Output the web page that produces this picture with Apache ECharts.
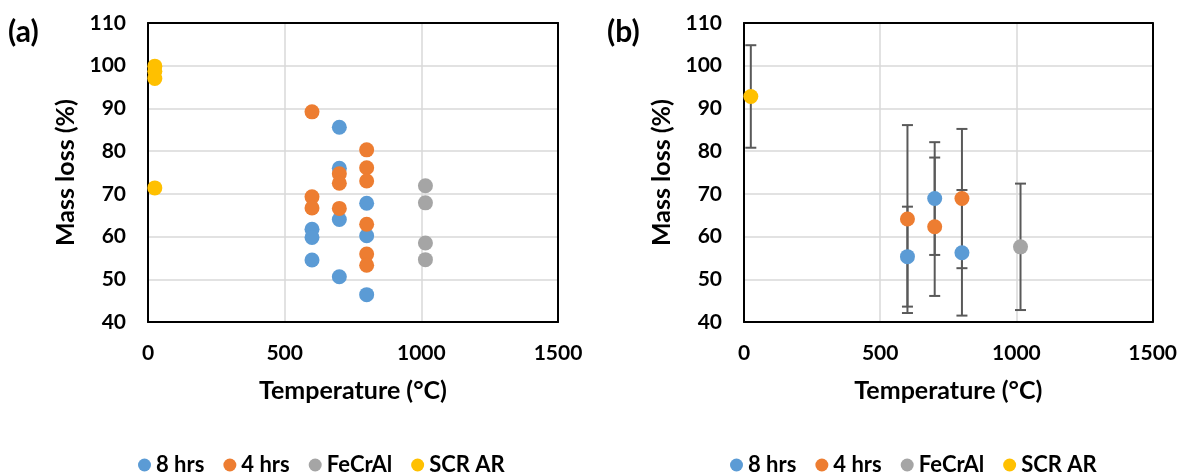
<!DOCTYPE html>
<html>
<head>
<meta charset="utf-8">
<script src="https://cdn.jsdelivr.net/npm/echarts@6/dist/echarts.min.js"></script>
<style>
html,body{margin:0;padding:0;background:#fff;}
#chart{width:1180px;height:472px;}
</style>
</head>
<body>
<div id="chart"></div>
<script>
// ---------- Data ----------
const seriesNames = ['8 hrs', '4 hrs', 'FeCrAl', 'SCR AR'];
const xTicks = [0, 500, 1000, 1500];
const yTicks = [40, 50, 60, 70, 80, 90, 100, 110];

// Panel (a): individual measurements
const tempA8 = [600, 600, 600, 700, 700, 700, 700, 800, 800, 800];
const lossA8 = [61.7, 59.8, 54.5, 85.6, 76.0, 64.0, 50.6, 67.8, 60.2, 46.4];
const tempA4 = [600, 600, 600, 700, 700, 700, 800, 800, 800, 800, 800, 800];
const lossA4 = [89.2, 69.3, 66.7, 74.7, 72.5, 66.6, 80.3, 76.1, 73.0, 62.9, 55.9, 53.3];
const tempAFe = [1015, 1015, 1015, 1015];
const lossAFe = [71.9, 67.9, 58.5, 54.6];
const tempASCR = [25, 25, 25, 25];
const lossASCR = [99.9, 98.7, 97.0, 71.4];

// Panel (b): means with error bars
const tempB8 = [600, 700, 800];
const lossB8 = [55.3, 68.9, 56.2];
const errB8 = [11.7, 13.2, 14.7];
const tempB4 = [600, 700, 800];
const lossB4 = [64.1, 62.3, 68.9];
const errB4 = [22.0, 16.2, 16.3];
const tempBFe = [1015];
const lossBFe = [57.6];
const errBFe = [14.8];
const tempBSCR = [25];
const lossBSCR = [92.8];
const errBSCR = [12.0];

// ---------- Styling ----------
const colors = ['#5B9BD5', '#ED7D31', '#A5A5A5', '#FFC000'];
const FONT = 'Lato';
const zip = (xs, ys) => xs.map((x, i) => [x, ys[i]]);
const zip3 = (xs, ys, es) => xs.map((x, i) => [x, ys[i], es[i]]);

const chart = echarts.init(document.getElementById('chart'), null, {renderer: 'canvas'});

const splitLineCfg = {show: true, showMinLine: false, showMaxLine: false, lineStyle: {color: '#d9d9d9', width: 1.5}};
const frameLine = {show: true, onZero: false, lineStyle: {color: '#000', width: 2}};

function xAxisCfg(gridIndex) {
  return {
    gridIndex, type: 'value', min: 0, max: 1500, interval: 500, position: 'bottom',
    name: 'Temperature (°C)', nameLocation: 'middle', nameGap: 56,
    nameTextStyle: {fontFamily: FONT, fontWeight: 'bold', fontSize: 25, color: '#000'},
    axisLine: frameLine, axisTick: {show: false},
    axisLabel: {fontFamily: FONT, fontWeight: 'bold', fontSize: 21, color: '#000', margin: 21,
      formatter: v => xTicks.includes(v) ? String(v) : ''},
    splitLine: splitLineCfg
  };
}
function yAxisCfg(gridIndex) {
  return {
    gridIndex, type: 'value', min: 40, max: 110, interval: 10, position: 'left',
    name: 'Mass loss (%)', nameLocation: 'middle', nameGap: 70,
    nameTextStyle: {fontFamily: FONT, fontWeight: 'bold', fontSize: 25, color: '#000'},
    axisLine: frameLine, axisTick: {show: false},
    axisLabel: {fontFamily: FONT, fontWeight: 'bold', fontSize: 21, color: '#000', margin: 22,
      formatter: v => yTicks.includes(v) ? String(v) : ''},
    splitLine: splitLineCfg
  };
}
// Frame-only axes (top and right edges of each plot box)
function xFrame(gridIndex) {
  return {gridIndex, type: 'value', min: 0, max: 1500, interval: 500, position: 'top',
    axisLine: frameLine, axisTick: {show: false}, axisLabel: {show: false}, splitLine: {show: false}};
}
function yFrame(gridIndex) {
  return {gridIndex, type: 'value', min: 40, max: 110, interval: 10, position: 'right',
    axisLine: frameLine, axisTick: {show: false}, axisLabel: {show: false}, splitLine: {show: false}};
}

function scatter(name, data, idx, color) {
  return {
    name, type: 'scatter', xAxisIndex: idx, yAxisIndex: idx, data,
    symbol: 'circle', symbolSize: 15, itemStyle: {color, opacity: 1}, z: 3,
    emphasis: {disabled: true}
  };
}
function errorBars(name, data) {
  return {
    name, type: 'custom', xAxisIndex: 1, yAxisIndex: 1, data, z: 2, silent: true,
    renderItem: function (params, api) {
      const x = api.value(0), y = api.value(1), e = api.value(2);
      const top = api.coord([x, y + e]);
      const bot = api.coord([x, y - e]);
      const hw = 5.5;
      const st = {stroke: '#595959', lineWidth: 2};
      return {
        type: 'group',
        children: [
          {type: 'line', shape: {x1: top[0], y1: top[1], x2: bot[0], y2: bot[1]}, style: st},
          {type: 'line', shape: {x1: top[0] - hw, y1: top[1], x2: top[0] + hw, y2: top[1]}, style: st},
          {type: 'line', shape: {x1: bot[0] - hw, y1: bot[1], x2: bot[0] + hw, y2: bot[1]}, style: st}
        ]
      };
    }
  };
}

const legendCommon = {
  data: seriesNames, icon: 'circle', itemWidth: 13, itemHeight: 13, itemGap: 19,
  textStyle: {fontFamily: FONT, fontWeight: 'bold', fontSize: 22, color: '#000'},
  selectedMode: false, orient: 'horizontal', top: 449
};

chart.setOption({
  animation: false,
  backgroundColor: '#fff',
  color: colors,
  grid: [
    {left: 148, top: 23, width: 410, height: 299},
    {left: 744, top: 23, width: 409, height: 299}
  ],
  xAxis: [xAxisCfg(0), xAxisCfg(1), xFrame(0), xFrame(1)],
  yAxis: [yAxisCfg(0), yAxisCfg(1), yFrame(0), yFrame(1)],
  legend: [
    Object.assign({}, legendCommon, {left: 133}),
    Object.assign({}, legendCommon, {left: 725})
  ],
  graphic: [
    {type: 'text', left: 8, top: 17, style: {text: '(a)', fontFamily: FONT, fontWeight: 'bold', fontSize: 30, fill: '#000'}},
    {type: 'text', left: 607, top: 17, style: {text: '(b)', fontFamily: FONT, fontWeight: 'bold', fontSize: 30, fill: '#000'}}
  ],
  series: [
    scatter('8 hrs', zip(tempA8, lossA8), 0, colors[0]),
    scatter('4 hrs', zip(tempA4, lossA4), 0, colors[1]),
    scatter('FeCrAl', zip(tempAFe, lossAFe), 0, colors[2]),
    scatter('SCR AR', zip(tempASCR, lossASCR), 0, colors[3]),
    errorBars('err 8 hrs', zip3(tempB8, lossB8, errB8)),
    errorBars('err 4 hrs', zip3(tempB4, lossB4, errB4)),
    errorBars('err FeCrAl', zip3(tempBFe, lossBFe, errBFe)),
    errorBars('err SCR AR', zip3(tempBSCR, lossBSCR, errBSCR)),
    scatter('8 hrs', zip(tempB8, lossB8), 1, colors[0]),
    scatter('4 hrs', zip(tempB4, lossB4), 1, colors[1]),
    scatter('FeCrAl', zip(tempBFe, lossBFe), 1, colors[2]),
    scatter('SCR AR', zip(tempBSCR, lossBSCR), 1, colors[3])
  ]
});
</script>
</body>
</html>
